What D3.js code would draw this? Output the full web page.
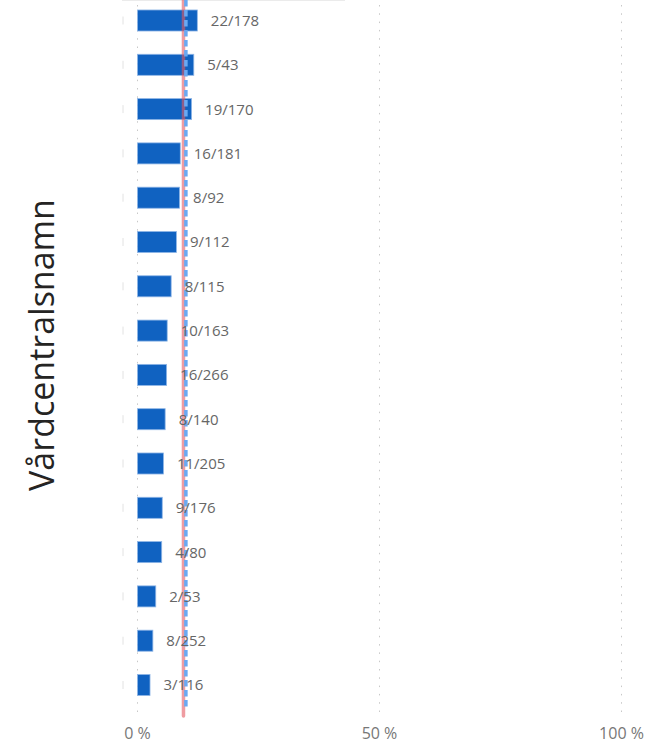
<!DOCTYPE html>
<html>
<head>
<meta charset="utf-8">
<script src="https://cdn.jsdelivr.net/npm/d3@7"></script>
<style>
  html, body { margin: 0; padding: 0; background: #fff; }
  svg { display: block; font-family: "Open Sans", "Noto Sans", sans-serif; }
</style>
</head>
<body>
<div id="chart"></div>
<script>
// Andel per vårdcentral: täljare / nämnare
const numerators   = [22, 5, 19, 16, 8, 9, 8, 10, 16, 8, 11, 9, 4, 2, 8, 3];
const denominators = [178, 43, 170, 181, 92, 112, 115, 163, 266, 140, 205, 176, 80, 53, 252, 116];
const xTicks = [0, 0.5, 1];
const averageLine = 0.095; // röd linje
const targetLine = 0.10;   // blå streckad linje

const width = 656, height = 755;
const rows = numerators.map((n, i) => ({ id: i, n: n, d: denominators[i], v: n / denominators[i] }));

const svg = d3.select('#chart').append('svg')
  .attr('width', width)
  .attr('height', height);

const x = d3.scaleLinear().domain([0, 1]).range([137.5, 621.5]);
const y = d3.scaleBand()
  .domain(rows.map(d => d.id))
  .range([-1.65, 707.15])
  .paddingInner(0.525)
  .paddingOuter(0.2625);

// faint top border
svg.append('line')
  .attr('x1', 122).attr('x2', 345)
  .attr('y1', 0.5).attr('y2', 0.5)
  .attr('stroke', '#ebebeb');

// dotted gridlines
svg.append('g')
  .selectAll('line')
  .data(xTicks)
  .join('line')
  .attr('x1', d => x(d)).attr('x2', d => x(d))
  .attr('y1', 5).attr('y2', 714)
  .attr('stroke', '#c8c8c8')
  .attr('stroke-width', 1)
  .attr('stroke-dasharray', '1.5,6.8');

// clipped category label stubs
svg.append('g')
  .selectAll('line')
  .data(rows)
  .join('line')
  .attr('x1', 123).attr('x2', 123)
  .attr('y1', d => y(d.id) + y.bandwidth() / 2 - 4)
  .attr('y2', d => y(d.id) + y.bandwidth() / 2 + 4)
  .attr('stroke', '#e2e2e2');

// bars
svg.append('g')
  .selectAll('rect')
  .data(rows)
  .join('rect')
  .attr('x', x(0))
  .attr('y', d => y(d.id))
  .attr('width', d => x(d.v) - x(0))
  .attr('height', y.bandwidth())
  .attr('fill', '#1062c1')
  .attr('stroke', '#8fb6e6')
  .attr('stroke-width', 0.8);

// reference lines
svg.append('line')
  .attr('x1', x(averageLine)).attr('x2', x(averageLine))
  .attr('y1', 0).attr('y2', 716)
  .attr('stroke', '#e45a62')
  .attr('stroke-opacity', 0.6)
  .attr('stroke-width', 3.5)
  .attr('stroke-linecap', 'round');

svg.append('line')
  .attr('x1', x(targetLine)).attr('x2', x(targetLine))
  .attr('y1', 0).attr('y2', 710)
  .attr('stroke', '#6aa9f2')
  .attr('stroke-width', 3.5)
  .attr('stroke-dasharray', '6.5,3.5');

// data labels
svg.append('g')
  .selectAll('text')
  .data(rows)
  .join('text')
  .attr('x', d => x(d.v) + 13.5)
  .attr('y', d => y(d.id) + y.bandwidth() / 2)
  .attr('dy', '0.36em')
  .attr('font-size', 15)
  .attr('fill', '#666')
  .text(d => d.n + '/' + d.d);

// x axis tick labels
svg.append('g')
  .selectAll('text')
  .data(xTicks)
  .join('text')
  .attr('x', d => x(d))
  .attr('y', 739)
  .attr('text-anchor', 'middle')
  .attr('font-size', 16)
  .attr('fill', '#777')
  .text(d => d3.format('d')(d * 100) + ' %');

// y axis title
svg.append('text')
  .attr('transform', 'translate(54,345) rotate(-90)')
  .attr('text-anchor', 'middle')
  .attr('font-size', 34)
  .attr('fill', '#252423')
  .text('Vårdcentralsnamn');
</script>
</body>
</html>
